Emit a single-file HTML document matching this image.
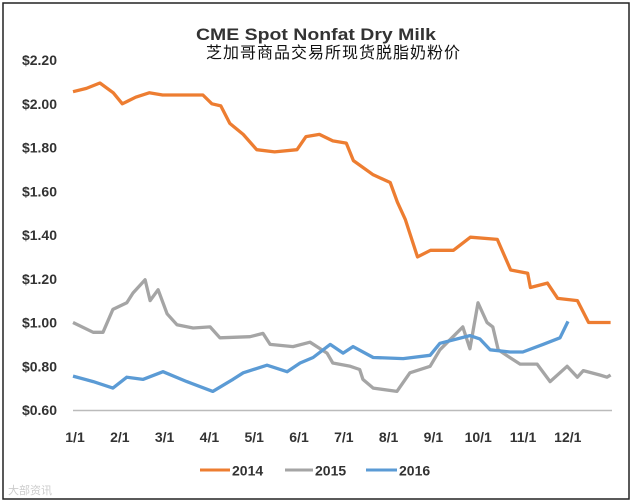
<!DOCTYPE html>
<html><head><meta charset="utf-8"><style>
html,body{margin:0;padding:0;background:#fff;}
svg{display:block;font-family:"Liberation Sans","Noto Sans CJK SC",sans-serif;}
</style></head><body>
<svg width="635" height="504" viewBox="0 0 635 504">
<rect x="3" y="3" width="626" height="496" fill="#fff" stroke="#222" stroke-width="1.5"/>
<text x="316" y="40" text-anchor="middle" font-size="17" font-weight="bold" fill="#333" textLength="240" lengthAdjust="spacingAndGlyphs">CME Spot Nonfat Dry Milk</text>
<text x="333" y="58" text-anchor="middle" font-size="16" fill="#111" font-family="'Noto Sans CJK SC',sans-serif" textLength="254">芝加哥商品交易所现货脱脂奶粉价</text>
<g id="yaxis"></g>
<g id="xaxis"></g>
<line x1="73" y1="410.5" x2="612" y2="410.5" stroke="#bbb" stroke-width="1.5"/>
<g id="series"></g>
<g>
<g><line x1="200" y1="470" x2="230" y2="470" stroke="#ED7D31" stroke-width="3"/><text x="232" y="475.5" font-size="14" font-weight="bold" fill="#333">2014</text></g>
<g><line x1="285" y1="470" x2="313" y2="470" stroke="#A5A5A5" stroke-width="3"/><text x="315" y="475.5" font-size="14" font-weight="bold" fill="#333">2015</text></g>
<g><line x1="366" y1="470" x2="397" y2="470" stroke="#5B9BD5" stroke-width="3"/><text x="399" y="475.5" font-size="14" font-weight="bold" fill="#333">2016</text></g>
</g>
<text x="8" y="494" font-size="11" fill="#ccc">大部资讯</text>
</svg>
<script>
const yTicks = [0.6, 0.8, 1.0, 1.2, 1.4, 1.6, 1.8, 2.0, 2.2];
const xLabels = ["1/1","2/1","3/1","4/1","5/1","6/1","7/1","8/1","9/1","10/1","11/1","12/1"];
const months2014 = [0,0.3,0.6,0.9,1.1,1.4,1.7,2.0,2.5,2.9,3.1,3.3,3.5,3.8,4.1,4.5,5.0,5.2,5.5,5.8,6.1,6.26,6.7,7.08,7.24,7.42,7.69,7.98,8.49,8.87,9.47,9.77,10.15,10.21,10.59,10.82,11.26,11.51,12];
const values2014 = [2.055,2.07,2.095,2.05,2.0,2.03,2.05,2.04,2.04,2.04,2.0,1.99,1.91,1.86,1.79,1.78,1.79,1.85,1.86,1.83,1.82,1.74,1.675,1.64,1.55,1.47,1.30,1.33,1.33,1.39,1.38,1.24,1.225,1.16,1.18,1.11,1.10,1.00,1.00];
const months2015 = [0,0.45,0.67,0.89,1.2,1.34,1.61,1.72,1.9,2.1,2.32,2.68,3.06,3.28,3.95,4.24,4.4,4.91,5.29,5.67,5.8,6.19,6.4,6.47,6.7,7.23,7.52,7.97,8.19,8.7,8.86,9.04,9.24,9.37,9.49,9.75,9.98,10.36,10.65,11.03,11.26,11.39,11.76,11.92,12];
const values2015 = [1.00,0.955,0.955,1.06,1.09,1.135,1.195,1.10,1.15,1.04,0.99,0.975,0.98,0.93,0.935,0.95,0.90,0.89,0.91,0.86,0.815,0.80,0.785,0.74,0.70,0.685,0.77,0.80,0.875,0.98,0.88,1.09,1.00,0.98,0.875,0.84,0.81,0.81,0.73,0.80,0.75,0.78,0.76,0.75,0.76];
const months2016 = [0,0.45,0.89,1.2,1.56,2.01,2.54,3.12,3.57,3.8,4.33,4.78,5.07,5.36,5.74,6.03,6.25,6.7,7.37,7.97,8.19,8.86,9.08,9.31,9.755,10.04,10.49,10.87,11.05];
const values2016 = [0.755,0.73,0.70,0.75,0.74,0.775,0.73,0.685,0.74,0.77,0.805,0.775,0.815,0.84,0.90,0.86,0.89,0.84,0.835,0.85,0.905,0.94,0.925,0.875,0.865,0.865,0.90,0.93,1.005];

const NS = "http://www.w3.org/2000/svg";
function xs(m){ return 73 + m * 44.8; }
function ys(v){ return 410 - (v - 0.6) / 0.2 * 43.75; }

const ya = document.getElementById('yaxis');
yTicks.forEach(function(v){
  const t = document.createElementNS(NS,'text');
  
  
  t.setAttribute('x', 57); t.setAttribute('y', ys(v) + 5);
  t.setAttribute('text-anchor','end'); t.setAttribute('font-size','14');
  t.setAttribute('font-weight','bold'); t.setAttribute('fill','#333');
  t.textContent = '$' + v.toFixed(2);
  ya.appendChild(t);
});
const xa = document.getElementById('xaxis');
xLabels.forEach(function(l, i){
  const t = document.createElementNS(NS,'text');
  
  
  t.setAttribute('x', xs(i) + 2); t.setAttribute('y', 442);
  t.setAttribute('text-anchor','middle'); t.setAttribute('font-size','14');
  t.setAttribute('font-weight','bold'); t.setAttribute('fill','#333');
  t.textContent = l;
  xa.appendChild(t);
});
const sg = document.getElementById('series');
function drawLine(ms, vs, color, name){
  const p = document.createElementNS(NS,'polyline');
  
  
  p.setAttribute('points', ms.map(function(m,i){ return xs(m).toFixed(1) + ',' + ys(vs[i]).toFixed(1); }).join(' '));
  p.setAttribute('fill','none'); p.setAttribute('stroke', color);
  p.setAttribute('stroke-width','3.3'); p.setAttribute('stroke-linejoin','round');
  sg.appendChild(p);
}
drawLine(months2015, values2015, '#A5A5A5', 'line-2015');
drawLine(months2016, values2016, '#5B9BD5', 'line-2016');
drawLine(months2014, values2014, '#ED7D31', 'line-2014');
</script>
</body></html>
